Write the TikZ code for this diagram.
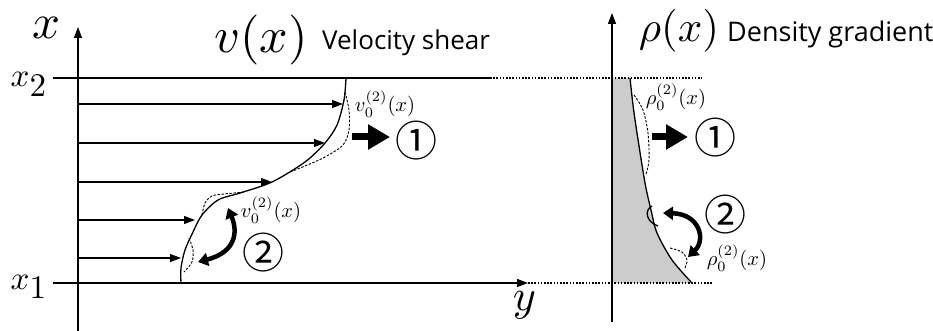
\documentclass[tikz,border=0pt]{standalone}
\usepackage{fontspec}
\usetikzlibrary{arrows.meta}
\newfontfamily\labelfont{Open Sans}
\newfontfamily\circfont{Noto Sans CJK JP}
\tikzset{
  axisline/.style={line width=1.3pt, -{Triangle[length=11pt,width=8pt]}},
  boundary/.style={line width=2.6pt},
  dotline/.style={line width=1.6pt, dash pattern=on 1.6pt off 1.6pt},
  flowarrow/.style={line width=1.1pt, -{Triangle[length=11pt,width=8pt]}},
  profile/.style={line width=1.3pt},
  perturb/.style={line width=0.9pt, dash pattern=on 2.5pt off 1.5pt},
  bigarrow/.style={line width=7pt, -{Triangle[length=22pt,width=24pt]}},
  swaparrow/.style={line width=4.5pt, {Triangle[length=10pt,width=13pt]}-{Triangle[length=10pt,width=13pt]}},
  lab/.style={anchor=base west, inner sep=0},
}
\newcommand{\circnum}[1]{\fontsize{42}{42}\selectfont\circfont #1}
\begin{document}
\begin{tikzpicture}[x=1pt,y=-1pt]
    \useasboundingbox (0,0) rectangle (933,331);

    % 1. 右侧密度分布 (阴影)
    \fill[gray!40] (612,78) -- (630,78) -- plot[smooth] coordinates
        {(630,78) (633,105) (637,133) (645,183) (651,210) (657,233) (672,260) (692,283)}
        -- (612,283) -- cycle;
    \draw[profile] plot[smooth] coordinates
        {(630,78) (633,105) (637,133) (645,183) (651,210) (657,233) (672,260) (692,283)};

    % 2. 边界 x1, x2
    \coordinate (O) at (78,283);
    \coordinate (Y) at (528,283);
    \draw[boundary] (53,78) -- (490,78);
    \draw[dotline] (490,78) -- (702,78);
    \draw[boundary] (53,283) -- (490,283);
    \draw[axisline] (490,283) -- (Y);
    \draw[dotline] (Y) -- (712,283);

    % 3. 坐标轴
    \draw[axisline] (78,331) -- (78,27);
    \draw[axisline] (612,322) -- (612,13);
    \node[lab, scale=4.9] (xlab) at (32,39) {$x$};
    \node[lab, scale=4.4] (ylab) at (512,310) {$y$};
    \node[lab, scale=3.3] (xtwo) at (10,87) {$x_{\textstyle 2}$};
    \node[lab, scale=3.3] (xone) at (10,289) {$x_{\textstyle 1}$};

    % 4. 标题
    \node[lab, scale=5] (vx) at (213,53) {$v(x)$};
    \node[lab] (vtext) at (322,50) {\fontsize{26}{26}\selectfont\labelfont Velocity shear};
    \node[lab, scale=4.3] (rhox) at (638,42) {$\rho(x)$};
    \node[lab] (rhotext) at (727,42) {\fontsize{27}{27}\selectfont\labelfont Density gradient};

    % 5. 速度剖面
    \foreach \y/\tip in {104/343, 143/325, 182/272, 220/195, 258/181}
        \draw[flowarrow] (78,\y) -- (\tip,\y);
    \draw[profile] plot[smooth] coordinates
        {(346,78) (344,100) (337,125) (325,143) (305,162) (272,182) (240,193)
         (218,200) (202,215) (193,232) (185,250) (181,268) (181,283)};
    \draw[perturb] plot[smooth] coordinates
        {(345,92) (349,110) (349,130) (343,145) (325,157) (305,166) (290,172)};
    \draw[perturb] plot[smooth] coordinates
        {(202,215) (205,203) (212,196) (224,194) (245,192)};
    \draw[perturb] plot[smooth] coordinates
        {(189,238) (193,250) (192,262) (184,272)};

    % 6. 密度扰动
    \draw[perturb] plot[smooth] coordinates
        {(634,95) (643,110) (648,133) (649,160) (646,174)};
    \draw[profile] (652,206) .. controls (644,210) and (646,222) .. (658,226);
    \draw[perturb] plot[smooth] coordinates
        {(670,248) (682,252) (687,260) (685,268)};

    % 7. 标签与箭头
    \node[scale=2.05] (vtop) at (385,104) {$v_0^{(2)}(x)$};
    \node[scale=2.05] (vlow) at (271,210) {$v_0^{(2)}(x)$};
    \node[scale=2.05] (rtop) at (676,97) {$\rho_0^{(2)}(x)$};
    \node[scale=2.05] (rlow) at (737,258) {$\rho_0^{(2)}(x)$};
    \node[inner sep=0] (oneL) at (416,141) {\circnum{①}};
    \node[inner sep=0] (twoL) at (263,253) {\circnum{②}};
    \node[inner sep=0] (oneR) at (715,138) {\circnum{①}};
    \node[inner sep=0] (twoR) at (725,215) {\circnum{②}};
    \draw[bigarrow] (352,137) -- (390,137);
    \draw[bigarrow] (652,137) -- (688,137);
    \draw[swaparrow] (228,208) .. controls (238,232) and (236,252) .. (198,262);
    \draw[swaparrow] (663,213) .. controls (700,214) and (706,240) .. (688,257);
\end{tikzpicture}
\end{document}
